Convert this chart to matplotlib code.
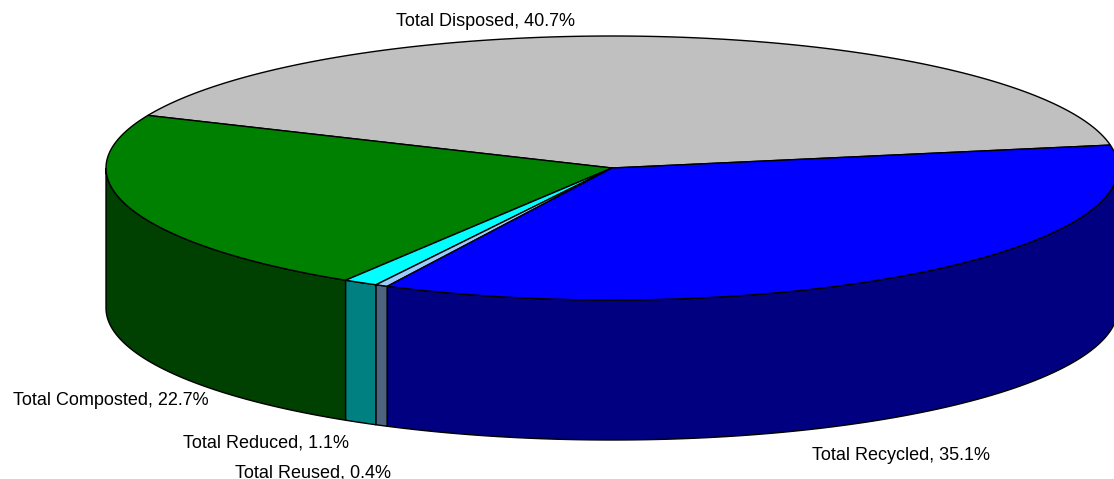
import matplotlib
matplotlib.use("Agg")
import matplotlib.pyplot as plt
from matplotlib.patches import Polygon
import numpy as np

# data
categories = ["Total Disposed", "Total Composted", "Total Reduced", "Total Reused", "Total Recycled"]
percents = [40.7, 22.7, 1.1, 0.4, 35.1]
top_colors = ["#C0C0C0", "#008000", "#00FFFF", "#99CCFF", "#0000FF"]
side_colors = ["#808080", "#004000", "#008080", "#4D6480", "#000080"]

# label anchor positions in pixels (x centre, baseline)
label_pos = [(485, 26), (111, 405), (266, 448), (313, 477), (901, 460)]

# pie geometry in pixels
cx, cy = 612, 168
rx, ry = 506, 132
depth = 140
start_angle = 10.0


def top_pt(t):
    t = np.radians(t)
    return cx + rx * np.cos(t), cy - ry * np.sin(t)


def arc(a, b, n=200, dy=0):
    t = np.linspace(a, b, n)
    x, y = top_pt(t)
    return np.column_stack([x, y + dy])


fig = plt.figure(figsize=(11.14, 4.79), dpi=100)
ax = fig.add_axes([0, 0, 1, 1])
ax.set_xlim(0, 1114)
ax.set_ylim(479, 0)
ax.axis("off")

angles = start_angle + np.concatenate([[0], np.cumsum(percents)]) * 3.6

# side walls (front half only: 180..360 degrees)
for i in range(len(percents)):
    a0, a1 = angles[i], angles[i + 1]
    for lo, hi in [(180, 360), (540, 720)]:
        s, e = max(a0, lo), min(a1, hi)
        if e <= s:
            continue
        upper = arc(s, e)
        lower = arc(e, s, dy=depth)
        ax.add_patch(Polygon(np.vstack([upper, lower]), closed=True,
                             facecolor=side_colors[i], edgecolor="black", lw=1.0))

# top faces
for i in range(len(percents)):
    pts = np.vstack([[cx, cy], arc(angles[i], angles[i + 1])])
    ax.add_patch(Polygon(pts, closed=True, facecolor=top_colors[i],
                         edgecolor="black", lw=1.0, joinstyle="round"))

for name, pct, (x, y) in zip(categories, percents, label_pos):
    ax.text(x, y, f"{name}, {pct:.1f}%", ha="center", va="baseline",
            fontsize=13, family="Liberation Sans", color="black")

fig.savefig("out.png", dpi=100)
